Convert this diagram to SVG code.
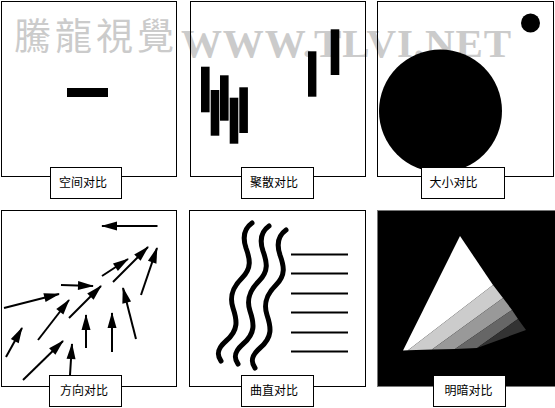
<svg xmlns="http://www.w3.org/2000/svg" width="555" height="408" viewBox="0 0 555 408">
<style>
.panel{fill:none;stroke:#000;stroke-width:1}
.lbl{fill:#fff;stroke:#000;stroke-width:1}
.lt{font-family:"Noto Sans CJK SC","Noto Sans CJK TC",sans-serif;font-size:12px;fill:#000;text-anchor:middle}
.wm{fill:#cbcbcb}
.arr{stroke:#000;stroke-width:2;fill:none;marker-end:url(#ah)}
.wave{stroke:#000;stroke-width:5;fill:none;stroke-linecap:round}
.hl{stroke:#000;stroke-width:2}
</style>
<defs>
<marker id="ah" markerUnits="userSpaceOnUse" markerWidth="17" markerHeight="10" refX="15" refY="4.5" orient="auto" overflow="visible">
<path d="M0,0 L16,4.5 L0,9 Z" fill="#000"/>
</marker>
<path id="wv" d="M252 223 C245 228,242 236,246 248 C250 259,252 268,242 278 C233 287,229 296,233 308 C237 320,239 330,226 341 C218 348,216 354,221 361"/>
</defs>
<rect width="555" height="408" fill="#fff"/>
<g id="watermark">
<text x="14" y="50" class="wm" font-family="Noto Sans CJK TC,Noto Sans CJK SC,sans-serif" font-size="37" letter-spacing="4">騰龍視覺</text>
<text x="181" y="57" class="wm" font-family="Liberation Serif,serif" font-weight="bold" font-size="41" textLength="330" lengthAdjust="spacing">WWW.TLVI.NET</text>
</g>
<g id="panel-space">
<rect class="panel" x="1.5" y="1.5" width="175" height="175"/>
<rect x="67" y="88" width="41" height="9" fill="#000"/>
<rect class="lbl" x="50.5" y="167.5" width="71" height="31"/>
<text class="lt" x="83" y="187">空间对比</text>
</g>
<g id="panel-cluster">
<rect class="panel" x="190.5" y="1.5" width="175" height="175"/>
<g fill="#000">
<rect x="201" y="66.7" width="8.6" height="45.6"/>
<rect x="210.7" y="90" width="8.6" height="45.7"/>
<rect x="220" y="75.3" width="8.6" height="45.4"/>
<rect x="229.7" y="97.7" width="8.6" height="46"/>
<rect x="239.3" y="87.3" width="8.6" height="45.7"/>
<rect x="308" y="51.3" width="8.4" height="45.4"/>
<rect x="330.7" y="29.3" width="8.6" height="45.7"/>
</g>
<rect class="lbl" x="241.5" y="167.5" width="72" height="31"/>
<text class="lt" x="274" y="187">聚散对比</text>
</g>
<g id="panel-size">
<rect class="panel" x="377.5" y="1.5" width="176" height="175"/>
<circle cx="440.5" cy="111" r="61.5" fill="#000"/>
<circle cx="530.5" cy="23" r="9.5" fill="#000"/>
<rect class="lbl" x="421.5" y="167.5" width="83" height="31"/>
<text class="lt" x="453.5" y="187">大小对比</text>
</g>
<g id="panel-direction">
<rect class="panel" x="1.5" y="210.5" width="175" height="176"/>
<g id="connectors">
<line class="arr" x1="157.5" y1="226" x2="102" y2="226"/>
<line class="arr" x1="4" y1="308" x2="59" y2="294"/>
<line class="arr" x1="61" y1="285" x2="93" y2="286"/>
<line class="arr" x1="102" y1="276" x2="128" y2="259"/>
<line class="arr" x1="113" y1="282" x2="148" y2="247"/>
<line class="arr" x1="141" y1="295" x2="157" y2="248"/>
<line class="arr" x1="38" y1="340" x2="69" y2="300"/>
<line class="arr" x1="69" y1="318" x2="101" y2="286"/>
<line class="arr" x1="6" y1="357" x2="22" y2="328"/>
<line class="arr" x1="23" y1="380" x2="63" y2="341"/>
<line class="arr" x1="86" y1="348" x2="86" y2="315"/>
<line class="arr" x1="112" y1="352" x2="112" y2="313"/>
<line class="arr" x1="136" y1="339" x2="123" y2="288"/>
<line class="arr" x1="70" y1="375" x2="72" y2="344"/>
</g>
<rect class="lbl" x="49.5" y="375.5" width="72" height="31"/>
<text class="lt" x="84" y="395">方向对比</text>
</g>
<g id="panel-curve">
<rect class="panel" x="189.5" y="210.5" width="176" height="176"/>
<use href="#wv" class="wave"/>
<use href="#wv" class="wave" transform="translate(17,3)"/>
<use href="#wv" class="wave" transform="translate(34,7)"/>
<g class="hl">
<line x1="291" y1="254.5" x2="348" y2="254.5"/>
<line x1="291" y1="273.5" x2="348" y2="273.5"/>
<line x1="291" y1="293.5" x2="348" y2="293.5"/>
<line x1="291" y1="312.5" x2="348" y2="312.5"/>
<line x1="291" y1="332.5" x2="348" y2="332.5"/>
<line x1="291" y1="351.5" x2="348" y2="351.5"/>
</g>
<rect class="lbl" x="241.5" y="375.5" width="72" height="31"/>
<text class="lt" x="274" y="395">曲直对比</text>
</g>
<g id="panel-light">
<rect x="377.5" y="210.5" width="178" height="176" fill="#000" stroke="#777" stroke-width="1"/>
<polygon points="460,236 493,285 408,350.3 403,350.5" fill="#fff"/>
<polygon points="408,350.3 493,285 503,298 432,349.5" fill="#ccc"/>
<polygon points="432,349.5 503,298 512,310 455,349" fill="#999"/>
<polygon points="455,349 512,310 518,319 477,348" fill="#666"/>
<polygon points="477,348 518,319 526,330" fill="#333"/>
<rect class="lbl" x="433.5" y="375.5" width="72" height="31"/>
<text class="lt" x="468.5" y="395">明暗对比</text>
</g>
</svg>
